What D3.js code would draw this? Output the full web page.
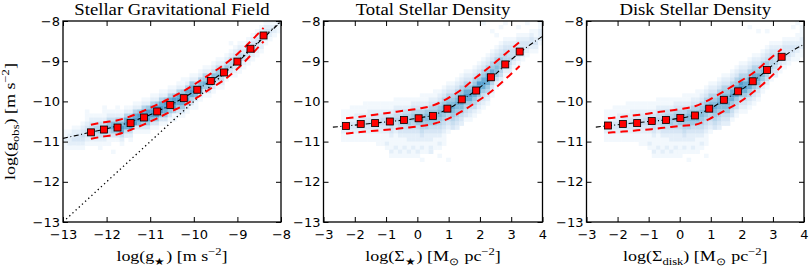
<!DOCTYPE html>
<html>
<head>
<meta charset="utf-8">
<script src="https://cdn.jsdelivr.net/npm/d3@7"></script>
<style>
  body { margin: 0; background: #fff; }
  .serif { font-family: "Liberation Serif", "Times New Roman", serif; fill: #000; }
</style>
</head>
<body>
<svg id="chart" width="810" height="273"></svg>
<script>
// ---- ticks ----
const yTicks = [-13, -12, -11, -10, -9, -8];
const gTicks = [-13, -12, -11, -10, -9, -8];
const sTicks = [-3, -2, -1, 0, 1, 2, 3, 4];

// ---- panel 1: stellar gravitational field ----
const gX = [-12.36, -12.06, -11.75, -11.45, -11.14, -10.84, -10.54, -10.23, -9.92, -9.61, -9.31, -9.00, -8.70, -8.40];
const gY = [-10.77, -10.70, -10.65, -10.54, -10.40, -10.25, -10.09, -9.92, -9.71, -9.49, -9.28, -9.01, -8.69, -8.36];
const gHi = [-10.58, -10.52, -10.47, -10.37, -10.23, -10.08, -9.92, -9.74, -9.53, -9.31, -9.09, -8.82, -8.51, -8.17];
const gLo = [-10.93, -10.87, -10.82, -10.71, -10.57, -10.42, -10.26, -10.10, -9.90, -9.68, -9.47, -9.19, -8.86, -8.51];
const fitGX = [-13, -12.5, -12, -11.5, -11, -10.5, -10, -9.5, -9, -8.5, -8];
const fitGY = [-10.92, -10.80, -10.68, -10.53, -10.33, -10.07, -9.76, -9.41, -9.02, -8.52, -8.02];
const unityX = [-13, -8];
const unityY = [-13, -8];

// ---- panel 2: total stellar density ----
const sX = [-2.28, -1.81, -1.35, -0.88, -0.43, 0.04, 0.50, 0.96, 1.42, 1.88, 2.35, 2.81, 3.27];
const sY = [-10.61, -10.56, -10.54, -10.50, -10.46, -10.42, -10.36, -10.18, -9.95, -9.73, -9.40, -9.08, -8.76];
const sHi = [-10.42, -10.38, -10.33, -10.28, -10.23, -10.18, -10.10, -9.93, -9.70, -9.40, -9.12, -8.82, -8.52];
const sLo = [-10.80, -10.76, -10.73, -10.70, -10.66, -10.62, -10.56, -10.44, -10.25, -10.02, -9.76, -9.45, -9.12];
const fitSX = [-2.7, -2, -1, 0, 0.5, 1, 1.5, 2, 2.5, 3, 3.5, 4];
const fitSY = [-10.64, -10.59, -10.51, -10.42, -10.34, -10.18, -9.93, -9.65, -9.32, -8.96, -8.65, -8.38];

// ---- panel 3: disk stellar density ----
const dX = [-2.31, -1.83, -1.37, -0.90, -0.44, 0.02, 0.49, 0.95, 1.42, 1.88, 2.35, 2.81, 3.28];
const dY = [-10.60, -10.56, -10.54, -10.49, -10.46, -10.41, -10.35, -10.18, -9.96, -9.75, -9.50, -9.22, -8.89];
const dHi = [-10.42, -10.38, -10.34, -10.29, -10.24, -10.19, -10.12, -9.96, -9.75, -9.53, -9.30, -9.00, -8.70];
const dLo = [-10.78, -10.75, -10.72, -10.69, -10.65, -10.61, -10.58, -10.44, -10.24, -10.04, -9.78, -9.48, -9.12];
const fitDX = [-2.7, -2, -1, 0, 0.5, 1, 1.5, 2, 2.5, 3, 3.5, 4];
const fitDY = [-10.64, -10.58, -10.50, -10.42, -10.34, -10.17, -9.93, -9.70, -9.42, -9.09, -8.80, -8.58];

// ---- 2d histograms: one entry per x bin (50 bins), [first row, levels]; row 0 is y=-8..-8.1 ----
const densG = [
  [27, "11211"], [27, "12221"], [26, "122321"], [26, "123321"], [25, "1234321"],
  [23, "11234321"], [23, "12345321"], [23, "12355421"], [23, "12456421"], [22, "112467421"],
  [22, "12467531"], [22, "12478631"], [21, "112578631"], [22, "12579842"], [21, "12589842"],
  [21, "12589942"], [20, "12589931"], [20, "12699731"], [19, "125899631"], [19, "126999631"],
  [18, "125899731"], [18, "126999631"], [17, "125899631"], [17, "126998631"], [16, "125899631"],
  [16, "126998531"], [15, "125898631"], [15, "126898631"], [14, "125889631"], [13, "126898531"],
  [13, "12578731"], [12, "12578731"], [11, "12568631"], [11, "12478631"], [10, "12478531"],
  [9, "12467531"], [9, "1246642"], [8, "1246531"], [7, "1245531"], [6, "12355321"],
  [5, "12355321"], [5, "1234421"], [4, "1234421"], [3, "1234321"], [2, "1233321"],
  [1, "1233221"], [0, "123321"], [0, "12321"], [0, "1221"], [0, "211"]
];
const extraG = [[2, 31, 1], [4, 31, 1], [6, 30, 1], [8, 31, 1], [10, 30, 1], [11, 32, 1], [13, 30, 1],
  [15, 29, 1], [5, 22, 1], [9, 21, 1], [25, 23, 1], [27, 14, 1], [30, 21, 1], [36, 16, 1], [40, 12, 1], [38, 5, 1]];

const densS = [
  [0, ""], [0, ""], [0, ""], [0, ""], [22, "11122211"],
  [22, "11123211"], [21, "111233211"], [21, "112233211"], [21, "112343211"], [20, "1112343211"],
  [20, "1122343211"], [20, "1123343211"], [20, "11233432111"], [20, "11234432111"], [20, "112344321121"],
  [20, "11234543211121"], [19, "112345432111211"], [19, "112345543211121"], [19, "112456543211211"], [19, "112456643221121"],
  [19, "123566543221211"], [19, "123567643221121"], [18, "112356765432121"], [18, "112367765322111"], [18, "123567764322121"],
  [17, "112356776432111"], [17, "123567765432121"], [16, "123567765432111"], [15, "1235677654321"], [15, "123567876543"],
  [14, "1235678765432"], [13, "1235678876432"], [12, "1235689865431"], [12, "1234689864321"], [11, "1235689865421"],
  [10, "1235699864321"], [9, "1235689864321"], [8, "1235689865321"], [7, "123568875321"], [6, "12356776421"],
  [5, "12346665421"], [4, "1234555421"], [4, "123445432"], [4, "12344321"], [3, "12334321"],
  [3, "1233321"], [3, "123321"], [2, "123321"], [2, "112321"], [0, "112221"]
];
const extraS = [[36, 0, 1], [38, 2, 1], [40, 1, 1], [41, 0, 1], [39, 3, 1], [15, 33, 1], [18, 33, 1],
  [22, 34, 1], [26, 33, 1], [28, 34, 1], [24, 32, 2], [20, 33, 1], [44, 1, 1], [46, 0, 1]];

const densD = [
  [0, ""], [0, ""], [0, ""], [0, ""], [22, "11122211"],
  [22, "11123211"], [21, "111233211"], [21, "112233211"], [21, "112343211"], [20, "1112343211"],
  [20, "1122343211"], [20, "1123343211"], [20, "11233432111"], [20, "11234432111"], [20, "112344321121"],
  [20, "11234543211121"], [19, "112345432111211"], [19, "112345543211121"], [19, "112456543211211"], [19, "112456643221121"],
  [19, "123566543221211"], [19, "123567643221121"], [18, "112356765432121"], [18, "112367765322111"], [18, "123567764322121"],
  [17, "112356776432111"], [17, "123567765432121"], [16, "123567765432111"], [15, "1235677654321"], [15, "123567876543"],
  [14, "1235678765432"], [13, "1235678876432"], [13, "1235678876432"], [12, "1235689865431"], [11, "1235689865421"],
  [10, "1235699864321"], [10, "1235689864321"], [9, "1235689865321"], [8, "1235689864321"], [8, "123568875321"],
  [7, "12356776421"], [6, "12346665421"], [5, "1234555421"], [5, "123445432"], [5, "12344321"],
  [4, "12334321"], [4, "1233321"], [4, "123321"], [3, "1123211"], [2, "1122211"]
];
const extraD = [[37, 1, 1], [39, 2, 1], [41, 2, 1], [47, 1, 1], [48, 0, 1], [49, 1, 1], [16, 33, 1],
  [19, 33, 1], [23, 34, 1], [27, 33, 1], [25, 32, 1], [21, 32, 1]];

(function () {
  'use strict';
  var svg = d3.select('#chart');
  var top = 21, bottom = 222;
  var y = d3.scaleLinear().domain([-13, -8]).range([bottom, top]);

  function level(L) {
    return d3.interpolateBlues(0.025 + (L - 1) * 0.068);
  }

  // text made of [string, 'n' | 'sub' | 'sup'] pieces
  function richText(sel, parts, size) {
    var shift = 0;
    parts.forEach(function (p) {
      var target = p[1] === 'sub' ? size * 0.28 : (p[1] === 'sup' ? -size * 0.42 : 0);
      sel.append('tspan')
        .attr('dy', target - shift)
        .attr('font-size', p[1] === 'n' ? size : size * 0.7)
        .text(p[0]);
      shift = target;
    });
  }

  function drawPanel(idx, opt) {
    var x = d3.scaleLinear().domain(opt.domain).range(opt.range);
    var g = svg.append('g');
    var x0 = opt.range[0], x1 = opt.range[1];

    svg.append('clipPath').attr('id', 'clip' + idx)
      .append('rect').attr('x', x0).attr('y', top).attr('width', x1 - x0).attr('height', bottom - top);
    var inner = g.append('g').attr('clip-path', 'url(#clip' + idx + ')');

    // histogram cells
    var binW = (opt.domain[1] - opt.domain[0]) / 50;
    var cells = [];
    opt.dens.forEach(function (col, c) {
      for (var k = 0; k < col[1].length; k++) {
        var L = +col[1][k];
        if (L > 0) { cells.push({c: c, r: col[0] + k, L: L}); }
      }
    });
    opt.extra.forEach(function (e) { cells.push({c: e[0], r: e[1], L: e[2]}); });
    inner.selectAll('rect.cell').data(cells).enter().append('rect')
      .attr('class', 'cell')
      .attr('x', function (d) { return x(opt.domain[0] + d.c * binW); })
      .attr('y', function (d) { return y(-8 - d.r * 0.1); })
      .attr('width', function (d) { return x(opt.domain[0] + (d.c + 1) * binW) - x(opt.domain[0] + d.c * binW) + 0.3; })
      .attr('height', function (d) { return y(-8 - (d.r + 1) * 0.1) - y(-8 - d.r * 0.1) + 0.3; })
      .attr('fill', function (d) { return level(d.L); });

    var line = d3.line()
      .x(function (d) { return x(d[0]); })
      .y(function (d) { return y(d[1]); });

    if (opt.unity) {
      inner.append('path')
        .attr('d', line(d3.zip(opt.unity[0], opt.unity[1])))
        .attr('fill', 'none').attr('stroke', '#000')
        .attr('stroke-width', 1.3).attr('stroke-dasharray', '1.3,3');
    }

    inner.append('path')
      .attr('d', line.curve(d3.curveMonotoneX)(d3.zip(opt.fitX, opt.fitY)))
      .attr('fill', 'none').attr('stroke', '#000')
      .attr('stroke-width', 1.1).attr('stroke-dasharray', '5,2.5,1,2.5');

    [opt.hi, opt.lo].forEach(function (band) {
      inner.append('path')
        .attr('d', line.curve(d3.curveMonotoneX)(d3.zip(opt.px, band)))
        .attr('fill', 'none').attr('stroke', '#ff0000')
        .attr('stroke-width', 2).attr('stroke-dasharray', '7.5,5');
    });

    inner.selectAll('rect.pt').data(d3.zip(opt.px, opt.py)).enter().append('rect')
      .attr('class', 'pt')
      .attr('x', function (d) { return x(d[0]) - 3.5; })
      .attr('y', function (d) { return y(d[1]) - 3.5; })
      .attr('width', 7).attr('height', 7)
      .attr('fill', '#ff0000').attr('stroke', '#000').attr('stroke-width', 0.8);

    // axes, ticks pointing inward
    function style(a) {
      a.select('.domain').remove();
      a.attr('font-family', '"DejaVu Sans", sans-serif').attr('font-size', 13);
      a.selectAll('.tick line').attr('stroke-width', 1);
    }
    g.append('g').attr('transform', 'translate(0,' + bottom + ')')
      .call(d3.axisBottom(x).tickValues(opt.ticks).tickSize(-5).tickPadding(8).tickFormat(d3.format('d')))
      .call(style);
    g.append('g').attr('transform', 'translate(0,' + top + ')')
      .call(d3.axisTop(x).tickValues(opt.ticks).tickSize(-5).tickFormat(''))
      .call(style);
    g.append('g').attr('transform', 'translate(' + x0 + ',0)')
      .call(d3.axisLeft(y).tickValues(yTicks).tickSize(-5).tickPadding(3).tickFormat(d3.format('d')))
      .call(style);
    g.append('g').attr('transform', 'translate(' + x1 + ',0)')
      .call(d3.axisRight(y).tickValues(yTicks).tickSize(-5).tickFormat(''))
      .call(style);

    g.append('rect')
      .attr('x', x0).attr('y', top).attr('width', x1 - x0).attr('height', bottom - top)
      .attr('fill', 'none').attr('stroke', '#000').attr('stroke-width', 1.3);

    var cx = (x0 + x1) / 2;
    g.append('text').attr('class', 'serif')
      .attr('transform', 'translate(' + cx + ',14.5) scale(1.17,1)')
      .attr('text-anchor', 'middle').attr('font-size', 16)
      .text(opt.title);

    var xl = g.append('text').attr('class', 'serif')
      .attr('transform', 'translate(' + cx + ',261) scale(1.2,1)')
      .attr('text-anchor', 'middle');
    richText(xl, opt.xlabel, 15);
  }

  drawPanel(0, {
    domain: [-13, -8], range: [63, 281], ticks: gTicks,
    px: gX, py: gY, hi: gHi, lo: gLo, fitX: fitGX, fitY: fitGY,
    unity: [unityX, unityY], dens: densG, extra: extraG,
    title: 'Stellar Gravitational Field',
    xlabel: [['log(g', 'n'], ['\u2605', 'sub'], [') [m s', 'n'], ['\u22122', 'sup'], [']', 'n']]
  });
  drawPanel(1, {
    domain: [-3, 4], range: [323.5, 542.5], ticks: sTicks,
    px: sX, py: sY, hi: sHi, lo: sLo, fitX: fitSX, fitY: fitSY,
    unity: null, dens: densS, extra: extraS,
    title: 'Total Stellar Density',
    xlabel: [['log(\u03a3', 'n'], ['\u2605', 'sub'], [') [M', 'n'], ['\u2299', 'sub'], [' pc', 'n'], ['\u22122', 'sup'], [']', 'n']]
  });
  drawPanel(2, {
    domain: [-3, 4], range: [586.5, 804], ticks: sTicks,
    px: dX, py: dY, hi: dHi, lo: dLo, fitX: fitDX, fitY: fitDY,
    unity: null, dens: densD, extra: extraD,
    title: 'Disk Stellar Density',
    xlabel: [['log(\u03a3', 'n'], ['disk', 'sub'], [') [M', 'n'], ['\u2299', 'sub'], [' pc', 'n'], ['\u22122', 'sup'], [']', 'n']]
  });

  var yl = svg.append('text').attr('class', 'serif')
    .attr('transform', 'translate(15,121.5) rotate(-90) scale(1.2,1)')
    .attr('text-anchor', 'middle');
  richText(yl, [['log(g', 'n'], ['obs', 'sub'], [') [m s', 'n'], ['\u22122', 'sup'], [']', 'n']], 15);
}());
</script>
</body>
</html>
